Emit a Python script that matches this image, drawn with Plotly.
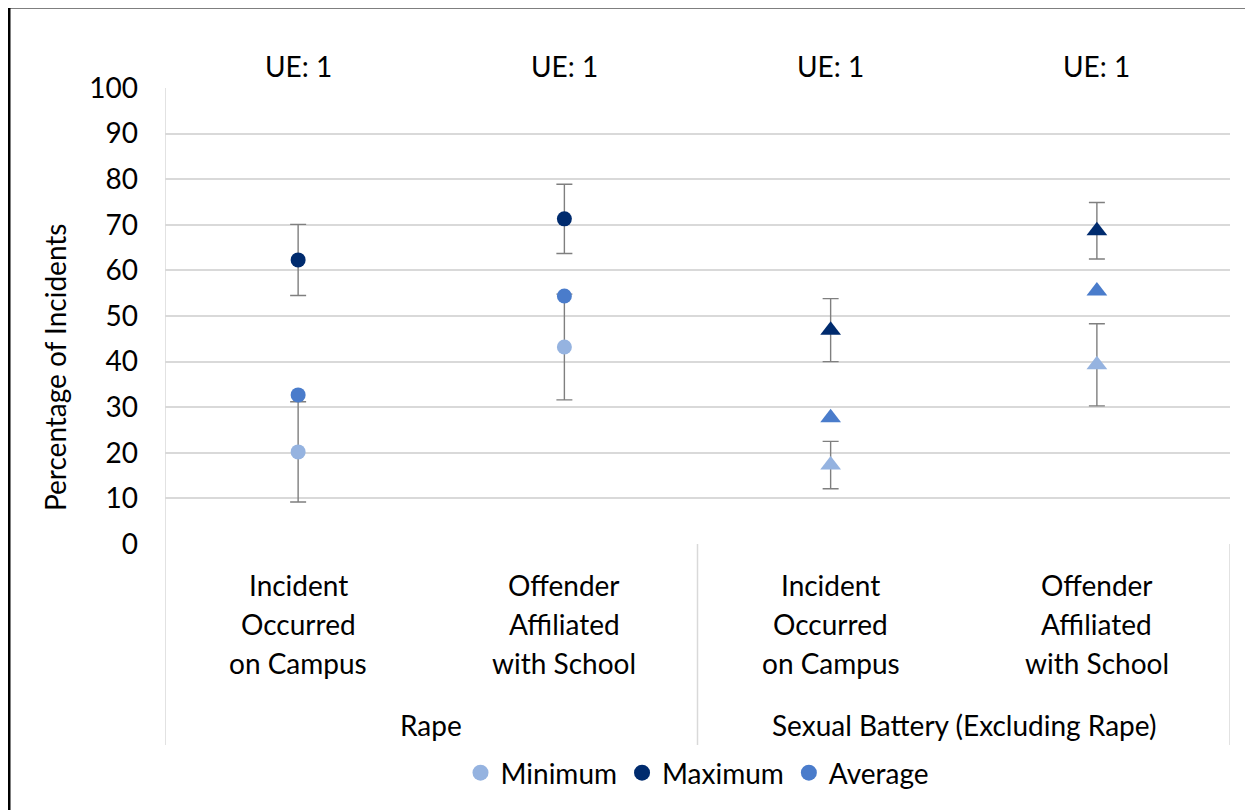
import plotly.graph_objects as go

# categories (x positions 0..3) and group labels
categories = ['Incident<br>Occurred<br>on Campus', 'Offender<br>Affiliated<br>with School',
              'Incident<br>Occurred<br>on Campus', 'Offender<br>Affiliated<br>with School']
groups = ['Rape', 'Sexual Battery (Excluding Rape)']
ue_labels = ['UE: 1', 'UE: 1', 'UE: 1', 'UE: 1']
symbols = ['circle', 'circle', 'triangle-up', 'triangle-up']
sizes = [15, 15, 18, 18]

minimum = [20.2, 43.2, 17.3, 39.3]
minimum_err = [11.0, 11.6, 5.2, 9.0]
maximum = [62.3, 71.3, 46.9, 68.7]
maximum_err = [7.8, 7.6, 6.9, 6.2]
average = [32.7, 54.4, 27.7, 55.5]

font = 'Lato, Open Sans, sans-serif'
fsize = 28
txt = '#000'
err_color = '#7F7F7F'
grid = '#D9D9D9'
xs = list(range(len(categories)))

# page has an 8px body margin, so figure is 8px smaller and shifted
W, H = 1245, 802
L, T, R, B = 157, 80, 23, 266
pw, ph = W - L - R, H - T - B


def px(x):  # figure pixel -> paper x
    return (x - L) / pw


def py(y):  # figure pixel -> paper y
    return (H - B - y) / ph


fig = go.Figure()


def add_series(name, values, color, err=None):
    error_y = None
    if err is not None:
        error_y = dict(type='data', array=err, visible=True, color=err_color,
                       thickness=1.4, width=8)
    fig.add_trace(go.Scatter(
        x=xs, y=values, mode='markers', name=name,
        marker=dict(color=color, size=sizes, symbol=symbols, opacity=1,
                    line=dict(width=0)),
        error_y=error_y,
    ))


add_series('Minimum', minimum, '#95B3E0', minimum_err)
add_series('Maximum', maximum, '#002B6E', maximum_err)
add_series('Average', average, '#4A7CCB')

annotations = []
for i, lab in enumerate(categories):
    for k, line in enumerate(lab.split('<br>')):
        annotations.append(dict(x=i, y=py(577 + 39 * k), xref='x', yref='paper', text=line,
                                showarrow=False, font=dict(size=fsize, color=txt),
                                yanchor='middle'))
    annotations.append(dict(x=i, y=py(58), xref='x', yref='paper', text=ue_labels[i],
                            showarrow=False, font=dict(size=fsize, color=txt),
                            yanchor='middle'))
for g, lab in enumerate(groups):
    annotations.append(dict(x=0.5 + 2 * g, y=py(717), xref='x', yref='paper', text=lab,
                            showarrow=False, font=dict(size=fsize, color=txt),
                            yanchor='middle'))
annotations.append(dict(x=px(47), y=py(360), xref='paper', yref='paper',
                        text='Percentage of Incidents', textangle=-90, showarrow=False,
                        xanchor='center', yanchor='middle',
                        font=dict(size=fsize, color=txt)))

shapes = []
for xv in [-0.5, 1.5, 3.5]:
    shapes.append(dict(type='line', xref='x', yref='paper', x0=xv, x1=xv, y0=0, y1=py(737),
                       line=dict(color=grid, width=1.5)))
shapes.append(dict(type='line', xref='x', yref='y', x0=-0.5, x1=-0.5, y0=0, y1=100,
                   line=dict(color=grid, width=1.5)))
# outer frame (only left and top edges visible)
shapes.append(dict(type='line', xref='paper', yref='paper',
                   x0=px(1), x1=px(1), y0=py(-3), y1=py(H + 5),
                   line=dict(color='black', width=3)))
shapes.append(dict(type='line', xref='paper', yref='paper',
                   x0=px(-1), x1=px(W + 5), y0=py(-1), y1=py(-1),
                   line=dict(color='black', width=3)))

fig.update_layout(
    width=W, height=H,
    margin=dict(l=L, r=R, t=T, b=B),
    plot_bgcolor='white', paper_bgcolor='white',
    font=dict(family=font, size=fsize, color=txt),
    xaxis=dict(range=[-0.5, 3.5], showgrid=False, showticklabels=False, zeroline=False,
               showline=False, fixedrange=True),
    yaxis=dict(range=[0, 100], dtick=10, showgrid=True, gridcolor=grid, gridwidth=1.5,
               zeroline=False, showline=False, ticklabelstandoff=26,
               tickfont=dict(size=fsize, color=txt)),
    showlegend=True,
    legend=dict(orientation='h', x=0.5, xanchor='center', y=py(765), yanchor='middle',
                font=dict(size=fsize), itemsizing='trace', traceorder='normal'),
    annotations=annotations,
    shapes=shapes,
)

fig.write_html("out.html")
